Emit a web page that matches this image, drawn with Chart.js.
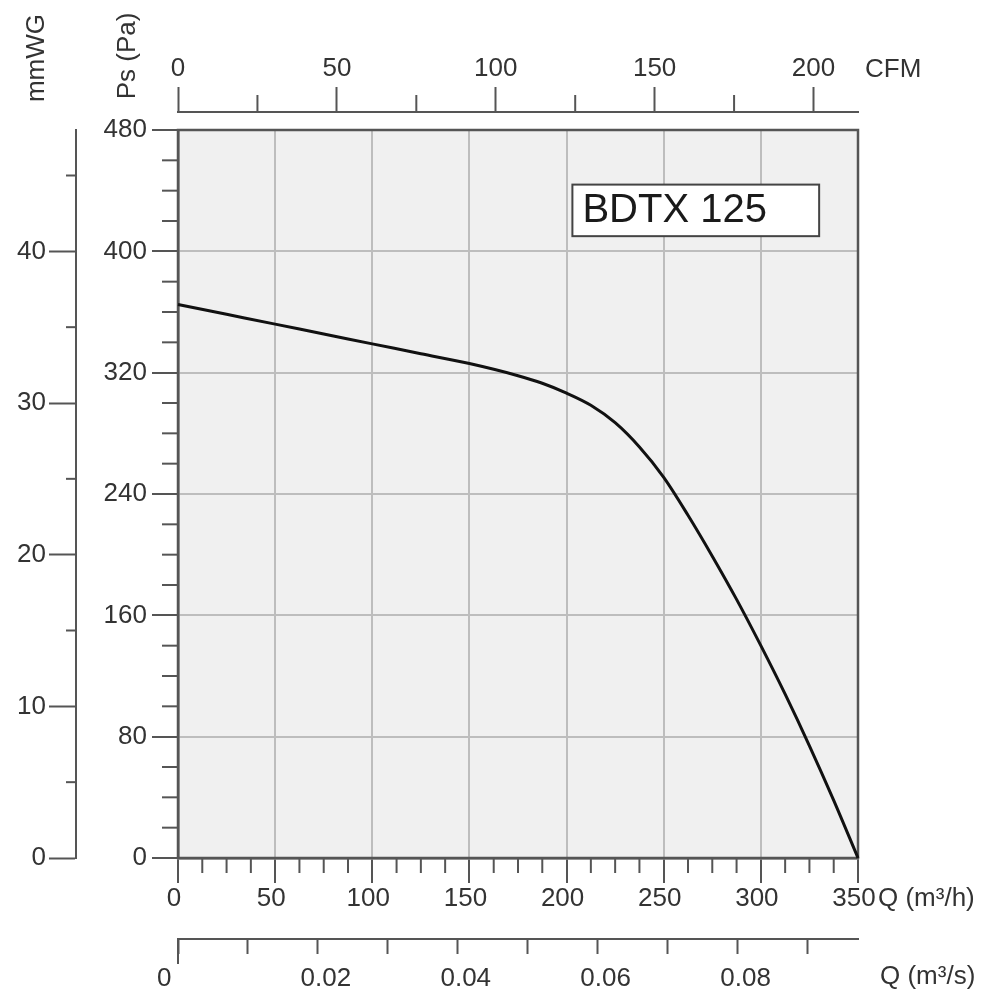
<!DOCTYPE html>
<html><head><meta charset="utf-8">
<style>html,body{margin:0;padding:0;background:#fff;}canvas{display:block;}</style>
<script src="https://cdn.jsdelivr.net/npm/chart.js@4.4.1/dist/chart.umd.min.js"></script>
</head><body>
<canvas id="c" width="1000" height="1000"></canvas>
<script>
// ---- data ----
const flowM3h    = [0, 25, 50, 75, 100, 125, 150, 175, 187.5, 200, 212.5, 225, 237.5, 250, 262.5, 275, 287.5, 300, 312.5, 325, 337.5, 350];
const pressurePa = [365, 358.5, 352, 345.5, 339, 332.5, 326, 318, 313, 306.5, 298.5, 287, 271, 251, 226, 199, 170.5, 140, 108, 74, 38, 0];

// ---- axes: tick values and labels ----
const qTicks   = [0, 50, 100, 150, 200, 250, 300, 350];
const qLabels  = ['0', '50', '100', '150', '200', '250', '300', '350'];
const qMinor   = [12.5, 25, 37.5, 62.5, 75, 87.5, 112.5, 125, 137.5, 162.5, 175, 187.5, 212.5, 225, 237.5, 262.5, 275, 287.5, 312.5, 325, 337.5];
const paTicks  = [0, 80, 160, 240, 320, 400, 480];
const paLabels = ['0', '80', '160', '240', '320', '400', '480'];
const paMinor  = [20, 40, 60, 100, 120, 140, 180, 200, 220, 260, 280, 300, 340, 360, 380, 420, 440, 460];
const mmTicks  = [0, 10, 20, 30, 40];
const mmLabels = ['0', '10', '20', '30', '40'];
const mmMinor  = [5, 15, 25, 35, 45];
const cfmTicks  = [0, 50, 100, 150, 200];
const cfmLabels = ['0', '50', '100', '150', '200'];
const cfmMinor  = [25, 75, 125, 175];
const qsTicks  = [0, 0.01, 0.02, 0.03, 0.04, 0.05, 0.06, 0.07, 0.08, 0.09];
const qsLabels = ['0      ', '', '0.02', '', '0.04', '', '0.06', '', '0.08', ''];
const qMax = 350, paMax = 480, mmMax = 48, cfmMax = 214, qsMax = 350 / 3600;
const modelName = 'BDTX 125';
const modelBox = {q0: 203, q1: 330, p0: 410, p1: 444};

const AX = '#555', GRID = '#bdbdbd', TXT = '#333';
const FAM = "'Liberation Sans', Arial, Helvetica, sans-serif";
const FS = 26;
const font = {family: FAM, size: FS};
const setTicks = (arr) => (s) => { s.ticks = arr.map(v => ({value: v})); };

const extras = {
  id: 'extras',
  beforeDraw(chart) {
    const {ctx, chartArea: a} = chart;
    ctx.save();
    ctx.fillStyle = '#f0f0f0';
    ctx.fillRect(a.left, a.top, a.width, a.height);
    ctx.restore();
  },
  beforeDatasetsDraw(chart) {
    const {ctx, chartArea: a} = chart;
    ctx.save();
    ctx.strokeStyle = AX; ctx.lineWidth = 2.5;
    ctx.strokeRect(a.left, a.top, a.width, a.height);
    ctx.restore();
  },
  afterDraw(chart) {
    const {ctx, chartArea: a, scales} = chart;
    ctx.save();
    ctx.strokeStyle = AX; ctx.lineWidth = 2;
    const seg = (x1, y1, x2, y2) => { ctx.beginPath(); ctx.moveTo(x1, y1); ctx.lineTo(x2, y2); ctx.stroke(); };
    // minor ticks
    qMinor.forEach(v => { const x = scales.x.getPixelForValue(v); seg(x, a.bottom, x, a.bottom + 15); });
    paMinor.forEach(v => { const y = scales.y.getPixelForValue(v); seg(a.left - 16, y, a.left, y); });
    const mmR = scales.mm.right;
    mmMinor.forEach(v => { const y = scales.mm.getPixelForValue(v); seg(mmR - 10, y, mmR, y); });
    const cfmB = scales.cfm.bottom;
    cfmMinor.forEach(v => { const x = scales.cfm.getPixelForValue(v); seg(x, cfmB - 17, x, cfmB); });
    // longer zero tick on m3/s axis
    const qsT = scales.qs.top, qs0 = scales.qs.getPixelForValue(0);
    seg(qs0, qsT, qs0, qsT + 25);
    // axis titles
    ctx.fillStyle = TXT;
    ctx.font = `${FS}px ${FAM}`;
    ctx.textBaseline = 'middle';
    ctx.save(); ctx.translate(37, 58); ctx.rotate(-Math.PI / 2); ctx.textAlign = 'center'; ctx.fillText('mmWG', 0, 0); ctx.restore();
    ctx.save(); ctx.translate(128, 56); ctx.rotate(-Math.PI / 2); ctx.textAlign = 'center'; ctx.fillText('Ps (Pa)', 0, 0); ctx.restore();
    ctx.textAlign = 'left';
    ctx.fillText('CFM', a.right + 7, 70);
    ctx.fillText('Q (m\u00B3/h)', a.right + 20, 899);
    ctx.fillText('Q (m\u00B3/s)', a.right + 22, 977);
    // model label box
    const bx0 = scales.x.getPixelForValue(modelBox.q0), bx1 = scales.x.getPixelForValue(modelBox.q1);
    const by0 = scales.y.getPixelForValue(modelBox.p1), by1 = scales.y.getPixelForValue(modelBox.p0);
    ctx.fillStyle = '#fff';
    ctx.fillRect(bx0, by0, bx1 - bx0, by1 - by0);
    ctx.strokeStyle = '#444'; ctx.lineWidth = 2;
    ctx.strokeRect(bx0, by0, bx1 - bx0, by1 - by0);
    ctx.fillStyle = '#1a1a1a';
    ctx.font = `40px ${FAM}`;
    ctx.textBaseline = 'middle';
    ctx.fillText(modelName, bx0 + 10, (by0 + by1) / 2 + 1);
    ctx.restore();
  }
};

new Chart(document.getElementById('c'), {
  type: 'line',
  data: {
    datasets: [{
      data: flowM3h.map((q, i) => ({x: q, y: pressurePa[i]})),
      borderColor: '#111', borderWidth: 3, pointRadius: 0,
      cubicInterpolationMode: 'monotone', fill: false, clip: 4,
      xAxisID: 'x', yAxisID: 'y'
    }]
  },
  options: {
    responsive: false, animation: false, devicePixelRatio: 1,
    layout: {padding: {left: 0, top: 0, right: 142, bottom: 0}},
    plugins: {legend: {display: false}, tooltip: {enabled: false}},
    scales: {
      x: {
        type: 'linear', axis: 'x', position: 'bottom', min: 0, max: qMax, weight: 1,
        afterBuildTicks: setTicks(qTicks), afterFit: s => { s.height = 81; },
        grid: {color: GRID, lineWidth: 2, tickColor: AX, tickLength: 25, tickWidth: 2},
        border: {display: true, color: AX, width: 2.5},
        ticks: {font, color: TXT, padding: 0, labelOffset: -4, maxRotation: 0, autoSkip: false, callback: (v, i) => qLabels[i]}
      },
      qs: {
        type: 'linear', axis: 'x', position: 'bottom', min: 0, max: qsMax, weight: 2,
        afterBuildTicks: setTicks(qsTicks), afterFit: s => { s.height = 61; },
        grid: {drawOnChartArea: false, tickColor: AX, tickLength: 15, tickWidth: 2},
        border: {display: true, color: AX, width: 2},
        ticks: {font, color: TXT, padding: 9, labelOffset: 8, maxRotation: 0, autoSkip: false, callback: (v, i) => qsLabels[i]}
      },
      cfm: {
        type: 'linear', axis: 'x', position: 'top', min: 0, max: cfmMax, weight: 2,
        afterBuildTicks: setTicks(cfmTicks), afterFit: s => { s.height = 112; },
        grid: {drawOnChartArea: false, tickColor: AX, tickLength: 25, tickWidth: 2},
        border: {display: true, color: AX, width: 2},
        ticks: {font, color: TXT, padding: 3, maxRotation: 0, autoSkip: false, callback: (v, i) => cfmLabels[i]}
      },
      gap: {
        type: 'linear', axis: 'x', position: 'top', min: 0, max: 1, weight: 1,
        afterFit: s => { s.height = 18; },
        grid: {display: false}, border: {display: false}, ticks: {display: false}
      },
      y: {
        type: 'linear', axis: 'y', position: 'left', min: 0, max: paMax, weight: 1,
        afterBuildTicks: setTicks(paTicks), afterFit: s => { s.width = 102; },
        grid: {color: GRID, lineWidth: 2, tickColor: AX, tickLength: 26, tickWidth: 2},
        border: {display: true, color: AX, width: 2.5},
        ticks: {font, color: TXT, padding: 5, autoSkip: false, callback: (v, i) => paLabels[i]}
      },
      mm: {
        type: 'linear', axis: 'y', position: 'left', min: 0, max: mmMax, weight: 2,
        afterBuildTicks: setTicks(mmTicks), afterFit: s => { s.width = 76; },
        grid: {drawOnChartArea: false, tickColor: AX, tickLength: 27, tickWidth: 2},
        border: {display: true, color: AX, width: 2},
        ticks: {font, color: TXT, padding: 3, autoSkip: false, callback: (v, i) => mmLabels[i]}
      }
    }
  },
  plugins: [extras]
});
</script>
</body></html>
